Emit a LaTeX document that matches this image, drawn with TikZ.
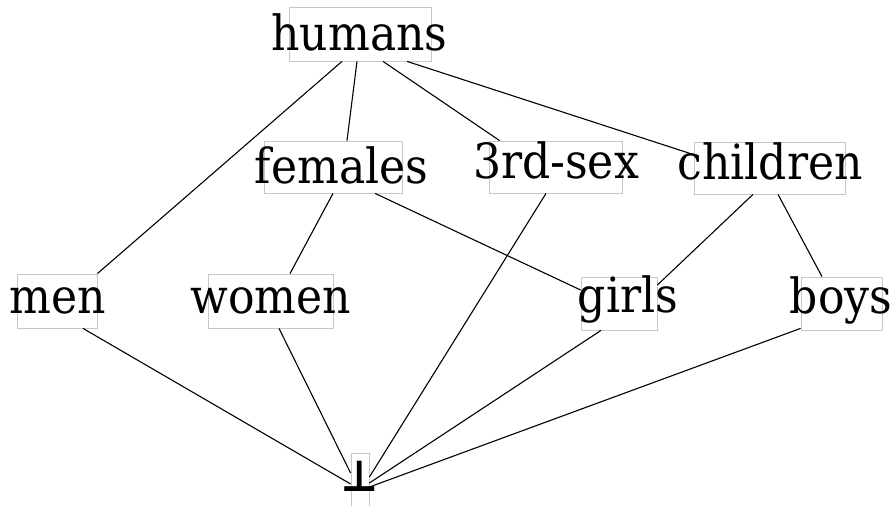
\documentclass[tikz,border=0pt]{standalone}
\usepackage{fontspec}
\setmainfont{DejaVu Serif}[FakeStretch=0.91]
\usetikzlibrary{calc}
\begin{document}
\begin{tikzpicture}[x=1pt,y=-1pt,
  box/.style={draw=black!22, line width=0.8pt, inner sep=0pt, fill=none},
  txt/.style={font=\fontsize{48.5}{52}\selectfont, inner sep=0pt, anchor=base},
  edge/.style={draw=black, line width=1.1pt}]
\useasboundingbox (0,0) rectangle (895,506);
% boxes
\node[box, minimum width=142pt, minimum height=54pt] (humans) at (360,34) {};
\node[box, minimum width=138pt, minimum height=52pt] (females) at (333,167) {};
\node[box, minimum width=133pt, minimum height=52pt] (thirdsex) at (555.5,167) {};
\node[box, minimum width=151pt, minimum height=52pt] (children) at (769.5,168) {};
\node[box, minimum width=80pt, minimum height=54pt] (men) at (57,301) {};
\node[box, minimum width=125pt, minimum height=54pt] (women) at (270.5,301) {};
\node[box, minimum width=76pt, minimum height=53pt] (girls) at (619,303.5) {};
\node[box, minimum width=81pt, minimum height=53pt] (boys) at (841.5,303.5) {};
\node[box, minimum width=18pt, minimum height=54pt] (bot) at (360,480) {};
% texts
\node[txt] (humanst) at (359.5,50) {humans};
\node[txt] (femalest) at (341.5,183) {females};
\node[txt] (thirdsext) at (556,178) {3rd-sex};
\node[txt] (childrent) at (770,179) {children};
\node[txt] (ment) at (57.5,313) {men};
\node[txt] (woment) at (271,313) {women};
\node[txt] (girlst) at (628,312) {girls};
\node[txt] (boyst) at (841,313) {boys};
\node[txt, font=\fontsize{44}{48}\selectfont\bfseries] (bott) at (360,491) {⊥};
% edges
\draw[edge] ($(humans.south)+(-18,0)$) -- (men.north east);
\draw[edge] ($(humans.south)+(-3,0)$) -- ($(females.north)+(14,0)$);
\draw[edge] ($(humans.south)+(23,0)$) -- ($(thirdsex.north west)+(11,0)$);
\draw[edge] ($(humans.south)+(47,0)$) -- ($(children.north west)+(0,13)$);
\draw[edge] (females.south) -- ($(women.north)+(19.5,0)$);
\draw[edge] ($(females.south)+(42,0)$) -- ($(girls.west)+(0,-13.5)$);
\draw[edge] ($(thirdsex.south)+(-9.5,0)$) -- ($(bot.east)+(0,-3)$);
\draw[edge] ($(children.south)+(-16.5,0)$) -- ($(girls.east)+(0,-18.5)$);
\draw[edge] ($(children.south)+(8.5,0)$) -- ($(boys.north)+(-19.5,0)$);
\draw[edge] ($(men.south)+(26,0)$) -- ($(bot.west)+(0,4)$);
\draw[edge] ($(women.south)+(8.5,0)$) -- ($(bot.west)+(0,-7)$);
\draw[edge] ($(girls.south)+(-18,0)$) -- ($(bot.east)+(0,3)$);
\draw[edge] ($(boys.south west)+(0,-2)$) -- ($(bot.east)+(0,7)$);
\end{tikzpicture}
\end{document}
